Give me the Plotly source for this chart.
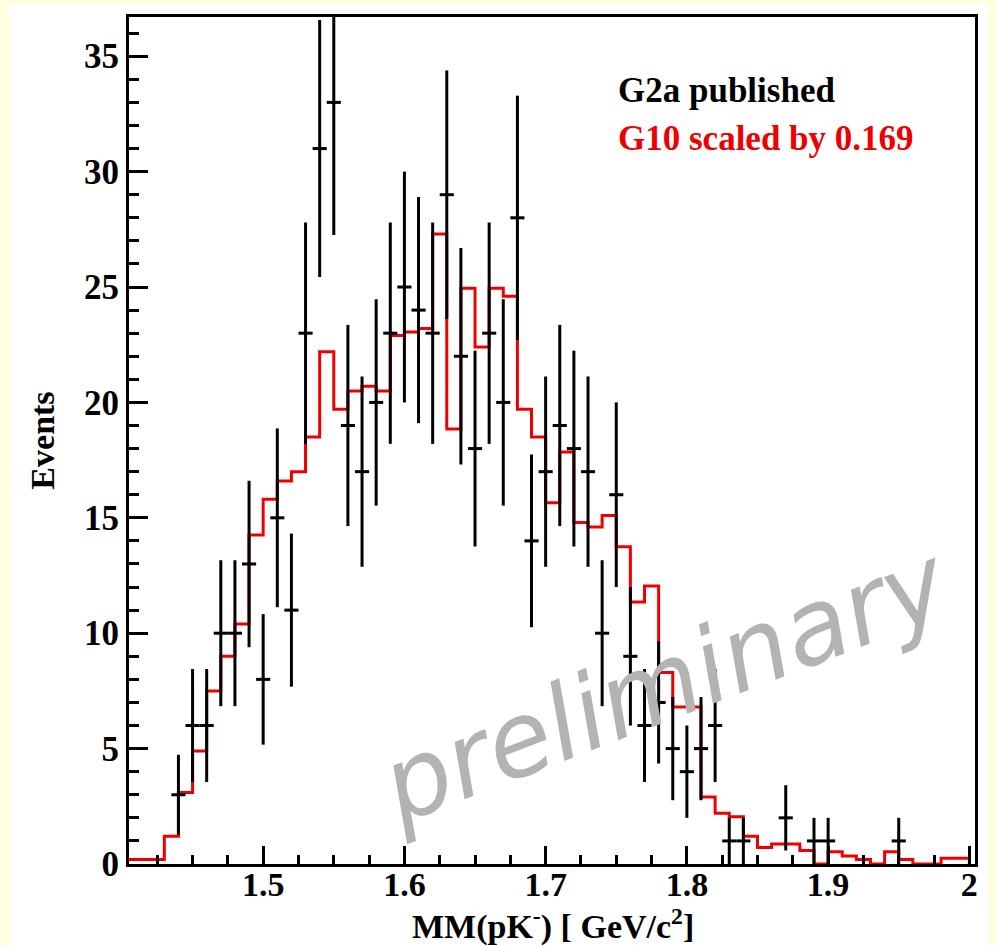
import numpy as np
import plotly.graph_objects as go

# ---- data ----
g2a_x = [1.44, 1.45, 1.46, 1.47, 1.48, 1.49, 1.50, 1.51, 1.52, 1.53, 1.54, 1.55,
         1.56, 1.57, 1.58, 1.59, 1.60, 1.61, 1.62, 1.63, 1.64, 1.65, 1.66, 1.67,
         1.68, 1.69, 1.70, 1.71, 1.72, 1.73, 1.74, 1.75, 1.76, 1.77, 1.78, 1.79,
         1.80, 1.81, 1.82, 1.83, 1.84, 1.87, 1.89, 1.90, 1.95]
g2a_y = [3, 6, 6, 10, 10, 13, 8, 15, 11, 23, 31, 33,
         19, 17, 20, 23, 25, 24, 23, 29, 22, 18, 23, 20,
         28, 14, 17, 19, 18, 17, 10, 16, 9, 6, 7, 5,
         4, 5, 6, 1, 1, 2, 1, 1, 1]

g10_left_edges = [1.40, 1.41, 1.42, 1.43, 1.44, 1.45, 1.46, 1.47, 1.48, 1.49,
                  1.50, 1.51, 1.52, 1.53, 1.54, 1.55, 1.56, 1.57, 1.58, 1.59,
                  1.60, 1.61, 1.62, 1.63, 1.64, 1.65, 1.66, 1.67, 1.68, 1.69,
                  1.70, 1.71, 1.72, 1.73, 1.74, 1.75, 1.76, 1.77, 1.78, 1.79,
                  1.80, 1.81, 1.82, 1.83, 1.84, 1.85, 1.86, 1.87, 1.88, 1.89,
                  1.90, 1.91, 1.92, 1.93, 1.94, 1.95, 1.96, 1.97, 1.98, 1.99]
g10_values = [0.2, 0.2, 0.2, 1.2, 3.1, 4.9, 7.5, 9.0, 10.4, 14.25,
              15.8, 16.6, 17.0, 18.5, 22.2, 19.7, 20.5, 20.7, 20.5, 22.9,
              23.05, 23.2, 27.3, 18.85, 24.95, 22.4, 24.95, 24.6, 19.7, 18.5,
              15.65, 17.85, 14.8, 14.6, 15.1, 13.75, 11.35, 12.05, 8.3, 6.8,
              6.8, 2.9, 2.2, 2.05, 1.2, 0.72, 0.87, 0.87, 0.58, 0.0,
              0.53, 0.35, 0.2, 0.0, 0.53, 0.2, 0.0, 0.0, 0.25, 0.25]
g10_bin_width = 0.01
g2a_bin_halfwidth = 0.005

x_tick_vals = [1.5, 1.6, 1.7, 1.8, 1.9, 2.0]
x_tick_text = ["1.5", "1.6", "1.7", "1.8", "1.9", "2"]
y_tick_vals = [0, 5, 10, 15, 20, 25, 30, 35]

# ---- figure ----
W, H = 995, 946
L, R, T, B = 129, 20, 17, 82
pw, ph = W - L - R, H - T - B

def px(xp):
    return (xp - L) / pw

def py(yp):
    return (H - B - yp) / ph

serif = "Liberation Serif"
red = "#ee0000"

step_x = list(g10_left_edges) + [g10_left_edges[-1] + g10_bin_width, g10_left_edges[-1] + g10_bin_width]
step_y = list(g10_values) + [g10_values[-1], 0.0]

fig = go.Figure()

fig.add_trace(go.Scatter(
    x=step_x, y=step_y, mode="lines", line_shape="hv",
    line=dict(color=red, width=3), hoverinfo="skip", showlegend=False))

fig.add_trace(go.Scatter(
    x=g2a_x, y=g2a_y, mode="markers",
    marker=dict(size=0.1, color="black", opacity=0),
    error_x=dict(type="constant", value=g2a_bin_halfwidth, color="black", thickness=3, width=0),
    error_y=dict(type="data", array=list(np.sqrt(g2a_y)), color="black", thickness=3, width=0),
    showlegend=False))

fig.update_layout(
    width=W, height=H,
    margin=dict(l=L, r=R, t=T, b=B, autoexpand=False),
    paper_bgcolor="#ffffe0",
    plot_bgcolor="white",
    font=dict(family=serif, size=34, color="black", weight="bold"),
    showlegend=False,
    shapes=[dict(type="rect", xref="paper", yref="paper",
                 x0=px(9), x1=px(988), y0=py(946), y1=py(4),
                 fillcolor="white", line=dict(width=0), layer="below")],
)

fig.update_xaxes(
    range=[1.405, 2.004], showgrid=False, zeroline=False,
    showline=True, mirror=True, linecolor="black", linewidth=3,
    ticks="inside", ticklen=18, tickwidth=3, tickcolor="black",
    tickvals=x_tick_vals, ticktext=x_tick_text,
    tickfont=dict(family=serif, size=34, weight="bold"),
    ticklabelstandoff=-12,
    minor=dict(tick0=1.5, dtick=0.025, ticks="inside", ticklen=9, tickwidth=3, tickcolor="black"),
)
fig.update_yaxes(
    range=[0, 36.7], showgrid=False, zeroline=False,
    showline=True, mirror=True, linecolor="black", linewidth=3,
    ticks="inside", ticklen=19, tickwidth=3, tickcolor="black",
    tickvals=y_tick_vals,
    tickfont=dict(family=serif, size=35, weight="bold"),
    minor=dict(tick0=0, dtick=1, ticks="inside", ticklen=10, tickwidth=3, tickcolor="black"),
    title=dict(text="Events", font=dict(family=serif, size=34, weight="bold"), standoff=20),
)

# x-axis title placed directly below the tick labels
fig.add_annotation(xref="paper", yref="paper", x=px(553), y=py(947), xanchor="center", yanchor="bottom",
                   text="MM(pK<sup>-</sup>) [ GeV/c<sup>2</sup>]", showarrow=False, borderpad=0,
                   font=dict(family=serif, size=34, color="black", weight="bold"))

fig.add_annotation(xref="paper", yref="paper", x=px(616), y=py(90), xanchor="left", yanchor="middle",
                   text="G2a published", showarrow=False,
                   font=dict(family=serif, size=35, color="black", weight="bold"))
fig.add_annotation(xref="paper", yref="paper", x=px(616), y=py(138), xanchor="left", yanchor="middle",
                   text="G10 scaled by 0.169", showarrow=False,
                   font=dict(family=serif, size=35, color=red, weight="bold"))
fig.add_annotation(xref="paper", yref="paper", x=px(664), y=py(684), xanchor="center", yanchor="middle",
                   text="preliminary", showarrow=False, textangle=-21,
                   font=dict(family="DejaVu Sans", size=104, color="#b3b3b3", style="italic", weight="normal"))

fig.write_html("out.html")
